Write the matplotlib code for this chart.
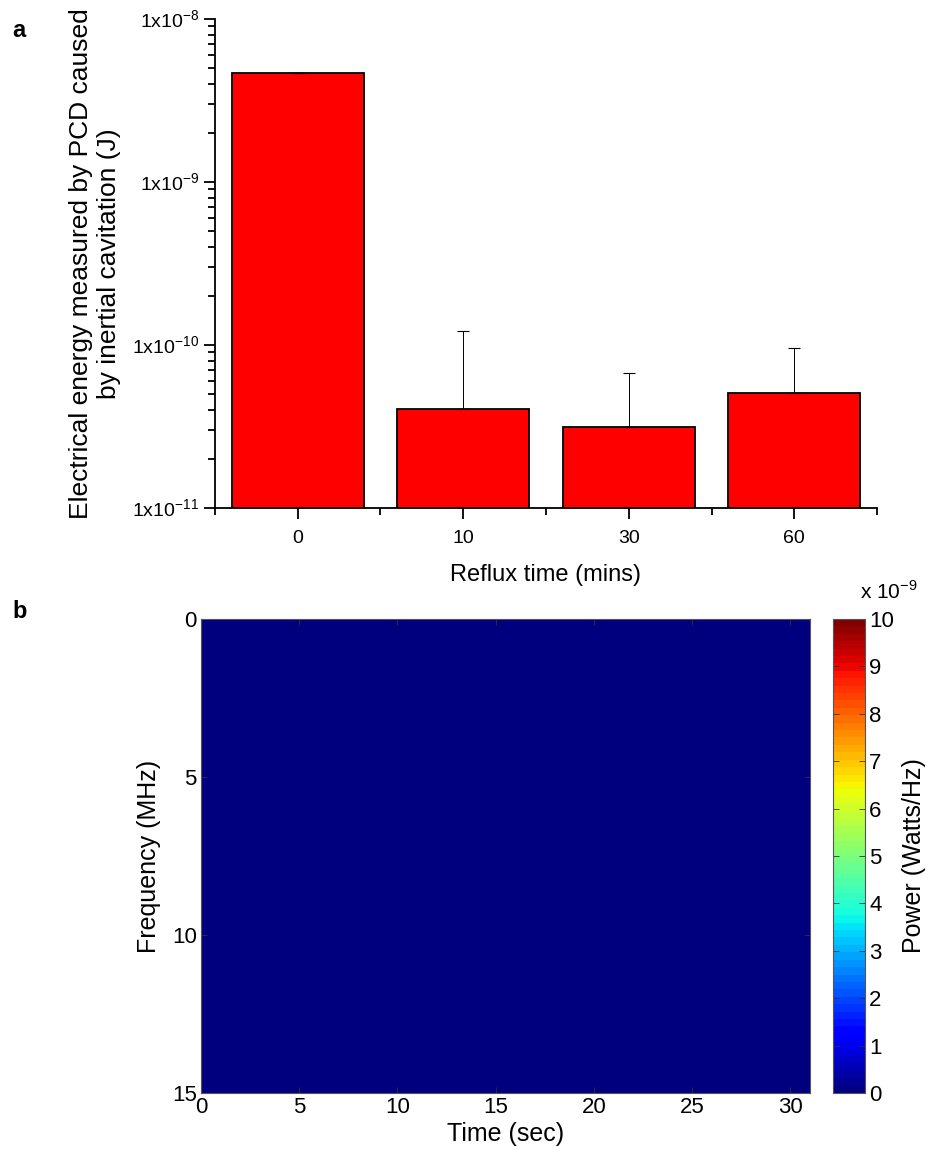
import numpy as np
import matplotlib
matplotlib.use('Agg')
import matplotlib.pyplot as plt
from matplotlib.ticker import LogLocator, FuncFormatter, FixedLocator, NullFormatter

plt.rcParams['font.family'] = ['Liberation Sans', 'DejaVu Sans']
plt.rcParams['mathtext.fontset'] = 'custom'
plt.rcParams['mathtext.rm'] = 'Liberation Sans'

# panel a data
reflux_times = ['0', '10', '30', '60']
energy = [4.64e-9, 4.06e-11, 3.16e-11, 5.06e-11]
energy_err = [0.05e-9, 8.2e-11, 3.57e-11, 4.5e-11]

# panel b data (spectrogram is flat zero everywhere)
time_range = [0, 31]
freq_range = [0, 15]
power = [[0.0]]
power_limits = [0, 10]
time_ticks = [0, 5, 10, 15, 20, 25, 30]
freq_ticks = [0, 5, 10, 15]

fig = plt.figure(figsize=(9.33, 11.49), dpi=100)

# ---- panel a ----
ax1 = fig.add_axes([0.2304, 0.5579, 0.7096, 0.4256])
x = np.arange(len(reflux_times))
ax1.bar(x, energy, width=0.8, color='#ff0000', edgecolor='black', linewidth=1.3,
        zorder=2)
ax1.errorbar(x, energy, yerr=[np.zeros(len(energy)), energy_err], fmt='none',
             ecolor='black', elinewidth=0.7, capsize=4, capthick=0.8, zorder=3)
ax1.set_yscale('log')
ax1.set_ylim(1e-11, 1e-8)
ax1.set_xlim(-0.5, 3.5)
ax1.yaxis.set_major_locator(LogLocator(base=10, numticks=10))
ax1.yaxis.set_minor_locator(LogLocator(base=10, subs=np.arange(2, 10), numticks=20))
ax1.yaxis.set_minor_formatter(NullFormatter())
ax1.yaxis.set_major_formatter(FuncFormatter(
    lambda v, p: r'1x10$^{\mathregular{%d}}$' % round(np.log10(v))))
ax1.set_xticks(x)
ax1.set_xticklabels(reflux_times)
ax1.xaxis.set_minor_locator(FixedLocator(np.arange(-0.5, 4.0, 1.0)))
for s in ['top', 'right']:
    ax1.spines[s].set_visible(False)
for s in ['left', 'bottom']:
    ax1.spines[s].set_linewidth(1.3)
ax1.tick_params(axis='both', which='major', direction='out', length=8, width=1.3,
                labelsize=14, colors='black')
ax1.tick_params(axis='both', which='minor', direction='out', length=5, width=1.3)
ax1.tick_params(axis='x', which='major', pad=8)
ax1.set_xlabel('Reflux time (mins)', fontsize=17, labelpad=12)
ax1.set_ylabel('Electrical energy measured by PCD caused\nby inertial cavitation (J)',
               fontsize=19, labelpad=8, linespacing=1.2)

fig.text(0.013, 0.968, 'a', fontsize=17, fontweight='bold')
fig.text(0.013, 0.462, 'b', fontsize=17, fontweight='bold')

# ---- panel b ----
ax2 = fig.add_axes([0.2154, 0.0487, 0.6528, 0.4126])
jet = plt.get_cmap('jet', 64)
im = ax2.imshow(power, cmap=jet, vmin=power_limits[0], vmax=power_limits[1],
                extent=[time_range[0], time_range[1], freq_range[1], freq_range[0]],
                aspect='auto', interpolation='nearest')
ax2.set_xlim(time_range)
ax2.set_ylim(freq_range[1], freq_range[0])
ax2.set_xticks(time_ticks)
ax2.set_yticks(freq_ticks)
ax2.tick_params(direction='in', length=4, width=0.6, top=True, right=True,
                labelsize=16, color='#333333', pad=3)
for s in ax2.spines.values():
    s.set_linewidth(0.8)
    s.set_color('#555555')
ax2.set_xlabel('Time (sec)', fontsize=18, labelpad=3)
ax2.set_ylabel('Frequency (MHz)', fontsize=18, labelpad=8)

cax = fig.add_axes([0.8928, 0.0487, 0.0343, 0.4126])
cb = fig.colorbar(im, cax=cax, ticks=np.arange(0, 11, 1))
cb.outline.set_linewidth(0.8)
cb.outline.set_edgecolor('#555555')
cax.tick_params(direction='in', length=4, width=0.6, left=True, right=True,
                labelsize=16, color='#333333', pad=3)
cb.set_label('Power (Watts/Hz)', fontsize=18, labelpad=6)
cax.text(0.85, 1.035, r'x 10$^{\mathregular{-9}}$', transform=cax.transAxes,
         fontsize=15, ha='left', va='bottom')

fig.savefig('out.png', dpi=100)
